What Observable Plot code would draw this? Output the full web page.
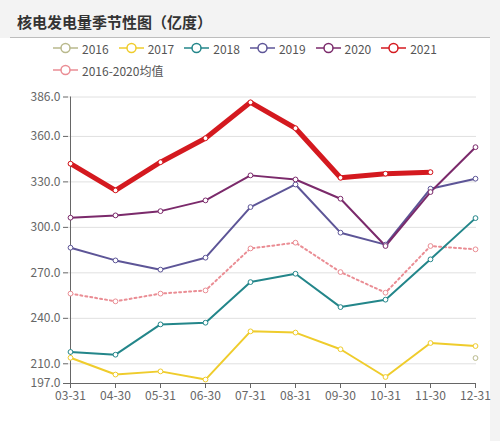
<!DOCTYPE html>
<html>
<head>
<meta charset="utf-8">
<script src="https://cdn.jsdelivr.net/npm/d3@7"></script>
<script src="https://cdn.jsdelivr.net/npm/@observablehq/plot@0.6"></script>
<style>
  body { margin: 0; background: #f3f3f3; font-family: "Noto Sans CJK SC", "Open Sans", sans-serif; }
  #wrap { position: relative; width: 500px; height: 441px; overflow: hidden; }
  #title { position: absolute; left: 17px; top: 12px; line-height: 20px; font-size: 15px; font-weight: bold; color: #333; }
  #panel { position: absolute; left: 0; top: 38px; width: 490px; height: 403px; background: #fff; }
  #hr { position: absolute; left: 10px; top: 37px; width: 480px; height: 1px; background: #bdbdbd; }
  #legend { position: absolute; left: 53px; top: 39px; width: 420px; display: flex; flex-wrap: wrap; column-gap: 10px; row-gap: 4px; font-size: 12px; color: #555; }
  .item { display: flex; align-items: center; height: 18px; }
  .item span { margin-left: 4px; }
  #chart { position: absolute; left: 0; top: 80px; }
</style>
</head>
<body>
<div id="wrap">
  <div id="title">核电发电量季节性图（亿度）</div>
  <div id="panel"></div>
  <div id="hr"></div>
  <div id="legend"></div>
  <div id="chart"></div>
</div>
<script>
const months = ["03-31", "04-30", "05-31", "06-30", "07-31", "08-31", "09-30", "10-31", "11-30", "12-31"]
const yTicks = [197, 210, 240, 270, 300, 330, 360, 386]

const series = ["2016", "2017", "2018", "2019", "2020", "2021", "2016-2020均值"]
const colors = ["#b9b98c", "#efcc2c", "#23868a", "#5d5597", "#7b2a6b", "#d4191f", "#ea8d94"]

// null = no value for that month
const v2016 = [null, null, null, null, null, null, null, null, null, 213.8]
const v2017 = [214.0, 202.9, 205.0, 199.6, 231.4, 230.6, 219.6, 201.3, 223.7, 221.7]
const v2018 = [217.8, 216.0, 236.0, 237.1, 263.9, 269.4, 247.4, 252.3, 278.9, 306.1]
const v2019 = [286.6, 278.2, 272.1, 280.0, 313.4, 328.3, 296.5, 288.6, 325.5, 332.1]
const v2020 = [306.4, 307.9, 310.7, 317.8, 334.3, 331.6, 318.9, 287.7, 323.3, 352.9]
const v2021 = [342.0, 324.4, 343.0, 358.8, 382.5, 365.4, 332.7, 335.4, 336.4, null]
const vAvg  = [256.3, 251.2, 256.3, 258.4, 286.1, 289.9, 270.5, 256.9, 287.7, 285.5]

const toRows = (name, vals) => vals.map((v, i) => ({month: months[i], value: v, series: name})).filter(d => d.value != null)

const d2016 = toRows("2016", v2016)
const d2017 = toRows("2017", v2017)
const d2018 = toRows("2018", v2018)
const d2019 = toRows("2019", v2019)
const d2020 = toRows("2020", v2020)
const d2021 = toRows("2021", v2021)
const dAvg = toRows("2016-2020均值", vAvg)

// legend
const legend = d3.select('#legend')
series.forEach((s, i) => {
  const it = legend.append('div').attr('class', 'item')
  const svg = it.append('svg').attr('width', 25).attr('height', 12)
  svg.append('line').attr('x1', 0).attr('x2', 25).attr('y1', 6).attr('y2', 6).attr('stroke', colors[i]).attr('stroke-width', 1.5)
  svg.append('circle').attr('cx', 12.5).attr('cy', 6).attr('r', 4.5).attr('fill', '#fff').attr('stroke', colors[i]).attr('stroke-width', 1.5)
  it.append('span').text(s)
})

const lineOpts = (w, extra = {}) => ({x: "month", y: "value", stroke: "series", strokeWidth: w, ...extra})
const dotOpts = {x: "month", y: "value", stroke: "series", fill: "white", r: 2.4, strokeWidth: 1}

let chart = Plot.plot({
  width: 490,
  height: 361,
  marginLeft: 68,
  marginRight: 14,
  marginTop: 16.5,
  marginBottom: 58,
  style: {fontFamily: '"Noto Sans CJK SC", "Open Sans", sans-serif', fontSize: "12px", color: "#666", overflow: "visible"},
  x: {type: "point", domain: months, padding: 0, label: null},
  y: {domain: [197, 386], label: null},
  color: {domain: series, range: colors},
  marks: [
    Plot.ruleY(yTicks.slice(1), {stroke: "#e0e0e0", strokeWidth: 1}),
    Plot.ruleY([197], {stroke: "#666"}),
    Plot.ruleX([months[0]], {stroke: "#666"}),
    Plot.axisY({ticks: yTicks, tickSize: 5, tickPadding: 3, tickFormat: d => d.toFixed(1), stroke: "#666", fill: "#666"}),
    Plot.axisX({tickSize: 5, tickPadding: 3, stroke: "#666", fill: "#666"}),
    Plot.line(dAvg, lineOpts(2, {strokeDasharray: "2,3"})),
    Plot.line(d2017, lineOpts(2)),
    Plot.line(d2018, lineOpts(2)),
    Plot.line(d2019, lineOpts(2)),
    Plot.line(d2020, lineOpts(2)),
    Plot.line(d2021, lineOpts(5)),
    Plot.dot([...d2016, ...dAvg, ...d2017, ...d2018, ...d2019, ...d2020, ...d2021], dotOpts)
  ]
})
d3.select('#chart').append(() => chart)
</script>
</body>
</html>
